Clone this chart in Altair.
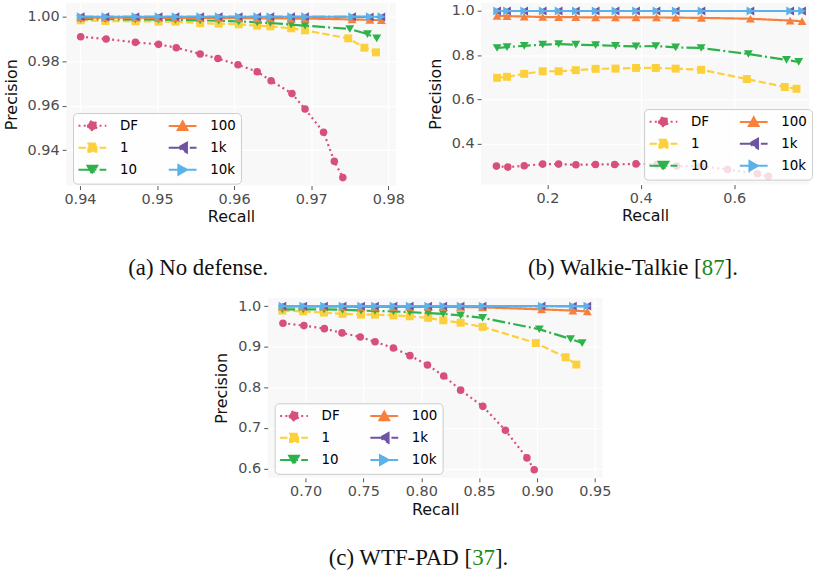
import altair as alt
import pandas as pd

# ---------------- data ----------------
SERIES = ["DF", "1", "10", "100", "1k", "10k"]
LEGEND_ORDER = ["DF", "1", "10", "100", "1k", "10k"]

# (a) No defense
a_x_top = [0.9401, 0.9433, 0.9472, 0.9502, 0.9524, 0.9556, 0.9580, 0.9606, 0.9630, 0.9647, 0.9674, 0.9692, 0.9753, 0.9776, 0.9791]
a_df_x = [0.9401, 0.9434, 0.9472, 0.9502, 0.9525, 0.9556, 0.9579, 0.9605, 0.9630, 0.9648, 0.9675, 0.9692, 0.9716, 0.9730, 0.9741]
a_df_y = [0.9910, 0.9900, 0.9885, 0.9876, 0.9861, 0.9833, 0.9812, 0.9784, 0.9753, 0.9712, 0.9655, 0.9585, 0.9481, 0.9350, 0.9277]
a_1_x = [0.9401, 0.9433, 0.9472, 0.9502, 0.9524, 0.9556, 0.9580, 0.9606, 0.9630, 0.9647, 0.9674, 0.9692, 0.9748, 0.9769, 0.9784]
a_1_y = [0.9984, 0.9981, 0.9980, 0.9978, 0.9978, 0.9971, 0.9969, 0.9966, 0.9960, 0.9957, 0.9948, 0.9939, 0.9903, 0.9861, 0.9840]
a_10_x = [0.9401, 0.9433, 0.9472, 0.9502, 0.9524, 0.9556, 0.9580, 0.9606, 0.9630, 0.9647, 0.9674, 0.9692, 0.9750, 0.9773, 0.9785]
a_10_y = [0.9990, 0.9989, 0.9988, 0.9987, 0.9986, 0.9984, 0.9982, 0.9979, 0.9975, 0.9972, 0.9965, 0.9960, 0.9945, 0.9922, 0.9903]
a_100_y = [0.9996, 0.9996, 0.9996, 0.9995, 0.9995, 0.9995, 0.9994, 0.9994, 0.9993, 0.9993, 0.9992, 0.9992, 0.9988, 0.9986, 0.9985]
a_1k_y = [1.0000, 1.0000, 1.0000, 1.0000, 1.0000, 1.0000, 1.0000, 1.0000, 1.0000, 1.0000, 1.0000, 1.0000, 1.0000, 0.9999, 0.9999]
a_10k_y = [1.0000, 1.0000, 1.0000, 1.0000, 1.0000, 1.0000, 1.0000, 1.0000, 1.0000, 1.0000, 1.0000, 1.0000, 1.0000, 1.0000, 1.0000]

# (b) Walkie-Talkie
b_x_top = [0.0924, 0.1137, 0.1505, 0.1901, 0.2241, 0.2609, 0.3033, 0.3458, 0.3897, 0.4335, 0.4746, 0.5298, 0.6345, 0.7195, 0.7450]
b_df_x = [0.0910, 0.1154, 0.1505, 0.1900, 0.2240, 0.2610, 0.3030, 0.3440, 0.3896, 0.4340, 0.4767, 0.5290, 0.5858, 0.6495, 0.6730]
b_df_y = [0.3000, 0.2955, 0.3015, 0.3090, 0.3090, 0.3060, 0.3075, 0.3075, 0.3100, 0.3070, 0.3000, 0.3000, 0.2850, 0.2656, 0.2535]
b_1_x = [0.0924, 0.1137, 0.1505, 0.1901, 0.2241, 0.2609, 0.3033, 0.3458, 0.3897, 0.4320, 0.4745, 0.5290, 0.6268, 0.7080, 0.7330]
b_1_y = [0.6985, 0.7030, 0.7164, 0.7280, 0.7280, 0.7330, 0.7390, 0.7400, 0.7430, 0.7430, 0.7400, 0.7350, 0.6930, 0.6570, 0.6490]
b_10_x = [0.0924, 0.1137, 0.1505, 0.1901, 0.2241, 0.2609, 0.3033, 0.3458, 0.3897, 0.4320, 0.4745, 0.5290, 0.6300, 0.7117, 0.7378]
b_10_y = [0.8330, 0.8370, 0.8430, 0.8480, 0.8510, 0.8480, 0.8460, 0.8430, 0.8400, 0.8420, 0.8360, 0.8330, 0.8060, 0.7790, 0.7700]
b_100_y = [0.9780, 0.9770, 0.9750, 0.9730, 0.9720, 0.9720, 0.9710, 0.9710, 0.9710, 0.9710, 0.9700, 0.9690, 0.9650, 0.9570, 0.9540]
b_1k_y = [1.0000, 1.0000, 1.0000, 1.0000, 1.0000, 1.0000, 1.0000, 1.0000, 1.0000, 1.0000, 1.0000, 1.0000, 1.0000, 1.0000, 1.0000]
b_10k_y = [1.0000, 1.0000, 1.0000, 1.0000, 1.0000, 1.0000, 1.0000, 1.0000, 1.0000, 1.0000, 1.0000, 1.0000, 1.0000, 1.0000, 1.0000]

# (c) WTF-PAD
c_x_top = [0.6800, 0.6980, 0.7160, 0.7320, 0.7480, 0.7600, 0.7760, 0.7900, 0.8060, 0.8190, 0.8340, 0.8530, 0.9040, 0.9310, 0.9435]
c_df_x = [0.6805, 0.6986, 0.7163, 0.7315, 0.7473, 0.7601, 0.7759, 0.7902, 0.8054, 0.8194, 0.8340, 0.8532, 0.8727, 0.8913, 0.8976]
c_df_y = [0.9580, 0.9520, 0.9445, 0.9340, 0.9240, 0.9120, 0.8970, 0.8780, 0.8550, 0.8280, 0.7930, 0.7530, 0.6940, 0.6260, 0.5970]
c_1_x = [0.6800, 0.6980, 0.7160, 0.7320, 0.7480, 0.7600, 0.7760, 0.7900, 0.8060, 0.8190, 0.8340, 0.8530, 0.8990, 0.9247, 0.9340]
c_1_y = [0.9890, 0.9870, 0.9840, 0.9810, 0.9790, 0.9790, 0.9770, 0.9750, 0.9710, 0.9650, 0.9590, 0.9490, 0.9090, 0.8740, 0.8560]
c_10_x = [0.6800, 0.6980, 0.7160, 0.7320, 0.7480, 0.7600, 0.7760, 0.7900, 0.8060, 0.8190, 0.8340, 0.8530, 0.9020, 0.9290, 0.9390]
c_10_y = [0.9920, 0.9920, 0.9920, 0.9910, 0.9890, 0.9880, 0.9870, 0.9850, 0.9830, 0.9810, 0.9770, 0.9710, 0.9430, 0.9190, 0.9090]
c_100_y = [0.9990, 0.9990, 0.9990, 0.9990, 0.9980, 0.9980, 0.9980, 0.9980, 0.9980, 0.9980, 0.9980, 0.9970, 0.9920, 0.9890, 0.9870]
c_1k_y = [1.0000, 1.0000, 1.0000, 1.0000, 1.0000, 1.0000, 1.0000, 1.0000, 1.0000, 1.0000, 1.0000, 1.0000, 1.0000, 1.0000, 1.0000]
c_10k_y = [1.0000, 1.0000, 1.0000, 1.0000, 1.0000, 1.0000, 1.0000, 1.0000, 1.0000, 1.0000, 1.0000, 1.0000, 1.0000, 1.0000, 1.0000]

a_ticks_x = [0.94, 0.95, 0.96, 0.97, 0.98]
a_ticks_y = [0.94, 0.96, 0.98, 1.00]
b_ticks_x = [0.2, 0.4, 0.6]
b_ticks_y = [0.4, 0.6, 0.8, 1.0]
c_ticks_x = [0.70, 0.75, 0.80, 0.85, 0.90, 0.95]
c_ticks_y = [0.6, 0.7, 0.8, 0.9, 1.0]

# ---------------- style ----------------
COLORS = {"DF": "#d6507a", "1": "#fcd03a", "10": "#2eb24b", "100": "#f7803c", "1k": "#6e54a3", "10k": "#5cb2e8"}
SHAPES = {"DF": "circle", "1": "square", "10": "triangle-down", "100": "triangle-up", "1k": "triangle-left", "10k": "triangle-right"}
SIZES = {"DF": 58, "1": 64, "10": 80, "100": 80, "1k": 80, "10k": 80}
DASHES = {"DF": [2, 3.3], "1": [7.4, 3.2], "10": [12.8, 3.2, 2, 3.2], "100": [1, 0], "1k": [12.8, 3.2, 2, 3.2], "10k": [1, 0]}
LINE = "M-1,0L3,0"
LEG_PATHS = {
    "DF": LINE + "M0.36,0A0.64,0.64 0 1,0 1.64,0A0.64,0.64 0 1,0 0.36,0Z",
    "1": LINE + "M0.42,-0.58L1.58,-0.58L1.58,0.58L0.42,0.58Z",
    "10": LINE + "M0.3,-0.6L1.7,-0.6L1,0.65Z",
    "100": LINE + "M0.3,0.6L1.7,0.6L1,-0.65Z",
    "1k": LINE + "M1.62,-0.7L1.62,0.7L0.38,0Z",
    "10k": LINE + "M0.38,-0.7L0.38,0.7L1.62,0Z",
}

CAP_FS = 23
CAP_FONT = "Liberation Serif"
BLACK = "#111111"
GREEN = "#1d8a1d"


def one():
    return alt.Chart(alt.Data(values=[{}]))


def cap_text(t, x, y, align, col):
    return one().mark_text(text=t, align=align, baseline="middle", font=CAP_FONT,
                           fontSize=CAP_FS, color=col).encode(x=alt.value(x), y=alt.value(y))


def caption(pre, num, post, xsplit, cy):
    out = [cap_text(pre, xsplit, cy, "right" if num else "center", BLACK)]
    if num:
        w = 0.5 * CAP_FS * len(num)
        out.append(cap_text(num, xsplit, cy, "left", GREEN))
        out.append(cap_text(post, xsplit + w, cy, "left", BLACK))
    return out


def panel(data, xdom, ydom, xt, yt, xf, yf, w, h, lx, ly, caps, spacers):
    rows = []
    for s in SERIES:
        xs, ys = data[s]
        for xv, yv in zip(xs, ys):
            rows.append({"series": s, "recall": xv, "precision": yv})
    df = pd.DataFrame(rows)
    base = alt.Chart(df)
    X = alt.X("recall:Q", scale=alt.Scale(domain=xdom, nice=False, zero=False),
              axis=alt.Axis(values=xt, format=xf, title="Recall", titlePadding=3))
    Y = alt.Y("precision:Q", scale=alt.Scale(domain=ydom, nice=False, zero=False),
              axis=alt.Axis(values=yt, format=yf, title="Precision", titlePadding=8))
    layers = []
    for s in SERIES:
        sub = base.transform_filter(alt.datum.series == s)
        layers.append(sub.mark_line(color=COLORS[s], strokeWidth=2.2, strokeDash=DASHES[s]).encode(x=X, y=Y))
        layers.append(sub.mark_point(shape=SHAPES[s], filled=True, size=SIZES[s], color=COLORS[s],
                                     opacity=1, strokeWidth=0.8).encode(x=X, y=Y))
    leg = alt.Legend(title=None, orient="none", legendX=lx, legendY=ly, columns=2,
                     symbolSize=196, symbolStrokeWidth=2, symbolOpacity=1,
                     labelFont="DejaVu Sans", labelFontSize=13.5, labelColor="black",
                     labelOffset=26.7, columnPadding=26.8, rowPadding=4.3, padding=4.5,
                     fillColor="rgba(255,255,255,0.8)", strokeColor="#cccccc", cornerRadius=4)
    cols = [COLORS[s] for s in LEGEND_ORDER]
    legend_layer = base.transform_filter("false").mark_point(filled=True, opacity=1, strokeWidth=2).encode(
        x=X, y=Y,
        fill=alt.Fill("series:N", scale=alt.Scale(domain=LEGEND_ORDER, range=cols), legend=leg),
        stroke=alt.Stroke("series:N", scale=alt.Scale(domain=LEGEND_ORDER, range=cols), legend=leg),
        shape=alt.Shape("series:N", scale=alt.Scale(domain=LEGEND_ORDER, range=[LEG_PATHS[s] for s in LEGEND_ORDER]), legend=leg),
        strokeDash=alt.StrokeDash("series:N", scale=alt.Scale(domain=LEGEND_ORDER, range=[DASHES[s] for s in LEGEND_ORDER]), legend=leg),
    )
    layers.append(legend_layer)
    layers += caps
    layers += spacers
    return alt.layer(*layers).properties(width=w, height=h)


IND = dict(fill="independent", stroke="independent", shape="independent", strokeDash="independent")

pa = panel({"DF": (a_df_x, a_df_y), "1": (a_1_x, a_1_y), "10": (a_10_x, a_10_y),
            "100": (a_x_top, a_100_y), "1k": (a_x_top, a_1k_y), "10k": (a_x_top, a_10k_y)},
           [0.9382, 0.9810], [0.9241, 1.0063], a_ticks_x, a_ticks_y, ".2f", ".2f", 332, 184,
           7, 111, caption("(a) No defense.", "", "", 133, 267), [])

pb = panel({"DF": (b_df_x, b_df_y), "1": (b_1_x, b_1_y), "10": (b_10_x, b_10_y),
            "100": (b_x_top, b_100_y), "1k": (b_x_top, b_1k_y), "10k": (b_x_top, b_10k_y)},
           [0.0582, 0.7600], [0.2164, 1.0373], b_ticks_x, b_ticks_y, ".1f", ".1f", 330, 183,
           164, 107, caption("(b) Walkie-Talkie [", "87", "].", 222, 267), [])

pc = panel({"DF": (c_df_x, c_df_y), "1": (c_1_x, c_1_y), "10": (c_10_x, c_10_y),
            "100": (c_x_top, c_100_y), "1k": (c_x_top, c_1k_y), "10k": (c_x_top, c_10k_y)},
           [0.6673, 0.9567], [0.5769, 1.0202], c_ticks_x, c_ticks_y, ".2f", ".1f", 337, 181,
           7, 106, caption("(c) WTF-PAD [", "37", "].", 205.7, 262),
           [one().mark_rule(opacity=0, strokeWidth=0).encode(x=alt.value(-69), x2=alt.value(0), y=alt.value(0))])

top = alt.hconcat(pa, pb, spacing=21.6).resolve_scale(**IND).resolve_legend(**IND)
chart = alt.vconcat(top, pc, spacing=18, center=True).resolve_scale(**IND).resolve_legend(**IND).properties(
    padding={"left": 3, "top": 1, "right": 0, "bottom": 0}
).configure_axis(
    labelFont="DejaVu Sans", labelFontSize=14.5, labelColor="#4d4d4d",
    titleFont="DejaVu Sans", titleFontSize=16, titleFontWeight="normal", titleColor="#111111",
    tickColor="#555555", tickSize=4, tickWidth=1, domain=False, grid=True,
    gridColor="#ffffff", gridWidth=1.2, labelPadding=3, labelFlush=False,
).configure_view(fill="#f8f8f8", stroke=None)

chart.save("out.html", embed_options={"renderer": "svg", "actions": False})
